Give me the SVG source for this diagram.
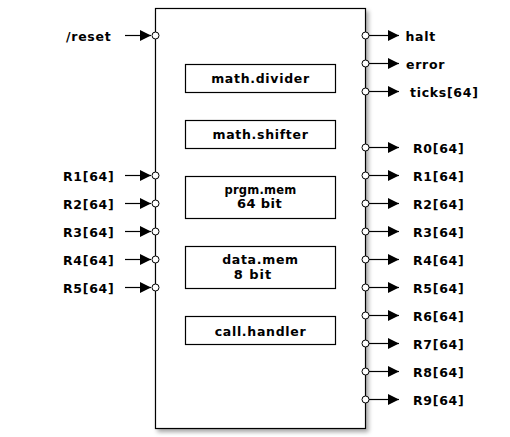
<svg xmlns="http://www.w3.org/2000/svg" width="510" height="437" viewBox="0 0 510 437">
<style>
text{font-family:"DejaVu Sans","Liberation Sans",sans-serif;font-weight:bold;font-size:12.5px;letter-spacing:0.7px;fill:#000}
.box{fill:#fff;stroke:#000;stroke-width:1.2}
.port{fill:#fff;stroke:#000;stroke-width:1}
.wire{stroke:#000;stroke-width:1.2;fill:none;marker-end:url(#arr)}
.c{text-anchor:middle}
.r{font-size:13px;letter-spacing:0.4px}
.s{font-size:11.5px;letter-spacing:0.2px}
</style>
<defs>
<marker id="arr" viewBox="0 0 10 10" refX="10" refY="5" markerWidth="11" markerHeight="11" markerUnits="userSpaceOnUse" orient="auto"><path d="M0,0 L10,5 L0,10 z" fill="#000"/></marker>
<filter id="sh" x="-10%" y="-10%" width="130%" height="130%"><feDropShadow dx="2.5" dy="3" stdDeviation="2" flood-color="#000" flood-opacity="0.35"/></filter>
</defs>
<rect width="510" height="437" fill="#fff"/>
<g id="cpu">
<rect class="box" x="155.5" y="8.5" width="210" height="420" filter="url(#sh)"/>
</g>
<g id="math.divider"><rect class="box" x="185.5" y="64.5" width="150" height="28"/><text class="c" x="260.5" y="83">math.divider</text></g>
<g id="math.shifter"><rect class="box" x="185.5" y="120.5" width="150" height="28"/><text class="c" x="260.5" y="139">math.shifter</text></g>
<g id="prgm.mem"><rect class="box" x="185.5" y="176.5" width="150" height="42"/><text class="c s" x="260.5" y="193.5">prgm.mem</text><text class="c r" x="259.5" y="207.5">64 bit</text></g>
<g id="data.mem"><rect class="box" x="185.5" y="246.5" width="150" height="42"/><text class="c" x="260.5" y="264">data.mem</text><text class="c r" x="253" y="279" style="letter-spacing:1px">8 bit</text></g>
<g id="call.handler"><rect class="box" x="185.5" y="316.5" width="150" height="28"/><text class="c" x="260.5" y="335.5">call.handler</text></g>
<g id="connectors">
<line class="wire" x1="125" y1="35.5" x2="151" y2="35.5"/>
<line class="wire" x1="125" y1="175.5" x2="151" y2="175.5"/>
<line class="wire" x1="125" y1="203.5" x2="151" y2="203.5"/>
<line class="wire" x1="125" y1="231.5" x2="151" y2="231.5"/>
<line class="wire" x1="125" y1="259.5" x2="151" y2="259.5"/>
<line class="wire" x1="125" y1="287.5" x2="151" y2="287.5"/>
<line class="wire" x1="369" y1="35.5" x2="399" y2="35.5"/>
<line class="wire" x1="369" y1="63.5" x2="399" y2="63.5"/>
<line class="wire" x1="369" y1="91.5" x2="399" y2="91.5"/>
<line class="wire" x1="369" y1="147.5" x2="399" y2="147.5"/>
<line class="wire" x1="369" y1="175.5" x2="399" y2="175.5"/>
<line class="wire" x1="369" y1="203.5" x2="399" y2="203.5"/>
<line class="wire" x1="369" y1="231.5" x2="399" y2="231.5"/>
<line class="wire" x1="369" y1="259.5" x2="399" y2="259.5"/>
<line class="wire" x1="369" y1="287.5" x2="399" y2="287.5"/>
<line class="wire" x1="369" y1="315.5" x2="399" y2="315.5"/>
<line class="wire" x1="369" y1="343.5" x2="399" y2="343.5"/>
<line class="wire" x1="369" y1="371.5" x2="399" y2="371.5"/>
<line class="wire" x1="369" y1="399.5" x2="399" y2="399.5"/>
<circle class="port" cx="155.5" cy="35.5" r="3.5"/>
<circle class="port" cx="155.5" cy="175.5" r="3.5"/>
<circle class="port" cx="155.5" cy="203.5" r="3.5"/>
<circle class="port" cx="155.5" cy="231.5" r="3.5"/>
<circle class="port" cx="155.5" cy="259.5" r="3.5"/>
<circle class="port" cx="155.5" cy="287.5" r="3.5"/>
<circle class="port" cx="365.5" cy="35.5" r="3.5"/>
<circle class="port" cx="365.5" cy="63.5" r="3.5"/>
<circle class="port" cx="365.5" cy="91.5" r="3.5"/>
<circle class="port" cx="365.5" cy="147.5" r="3.5"/>
<circle class="port" cx="365.5" cy="175.5" r="3.5"/>
<circle class="port" cx="365.5" cy="203.5" r="3.5"/>
<circle class="port" cx="365.5" cy="231.5" r="3.5"/>
<circle class="port" cx="365.5" cy="259.5" r="3.5"/>
<circle class="port" cx="365.5" cy="287.5" r="3.5"/>
<circle class="port" cx="365.5" cy="315.5" r="3.5"/>
<circle class="port" cx="365.5" cy="343.5" r="3.5"/>
<circle class="port" cx="365.5" cy="371.5" r="3.5"/>
<circle class="port" cx="365.5" cy="399.5" r="3.5"/>
<text x="66" y="40.5">/reset</text>
<text x="63" y="180.5">R1[64]</text>
<text x="63" y="208.5">R2[64]</text>
<text x="63" y="236.5">R3[64]</text>
<text x="63" y="264.5">R4[64]</text>
<text x="63" y="292.5">R5[64]</text>
<text x="405.5" y="40.5">halt</text>
<text x="406" y="68.5">error</text>
<text x="410" y="96.5">ticks[64]</text>
<text x="413" y="152.5">R0[64]</text>
<text x="413" y="180.5">R1[64]</text>
<text x="413" y="208.5">R2[64]</text>
<text x="413" y="236.5">R3[64]</text>
<text x="413" y="264.5">R4[64]</text>
<text x="413" y="292.5">R5[64]</text>
<text x="413" y="320.5">R6[64]</text>
<text x="413" y="348.5">R7[64]</text>
<text x="413" y="376.5">R8[64]</text>
<text x="413" y="404.5">R9[64]</text>
</g>
</svg>
